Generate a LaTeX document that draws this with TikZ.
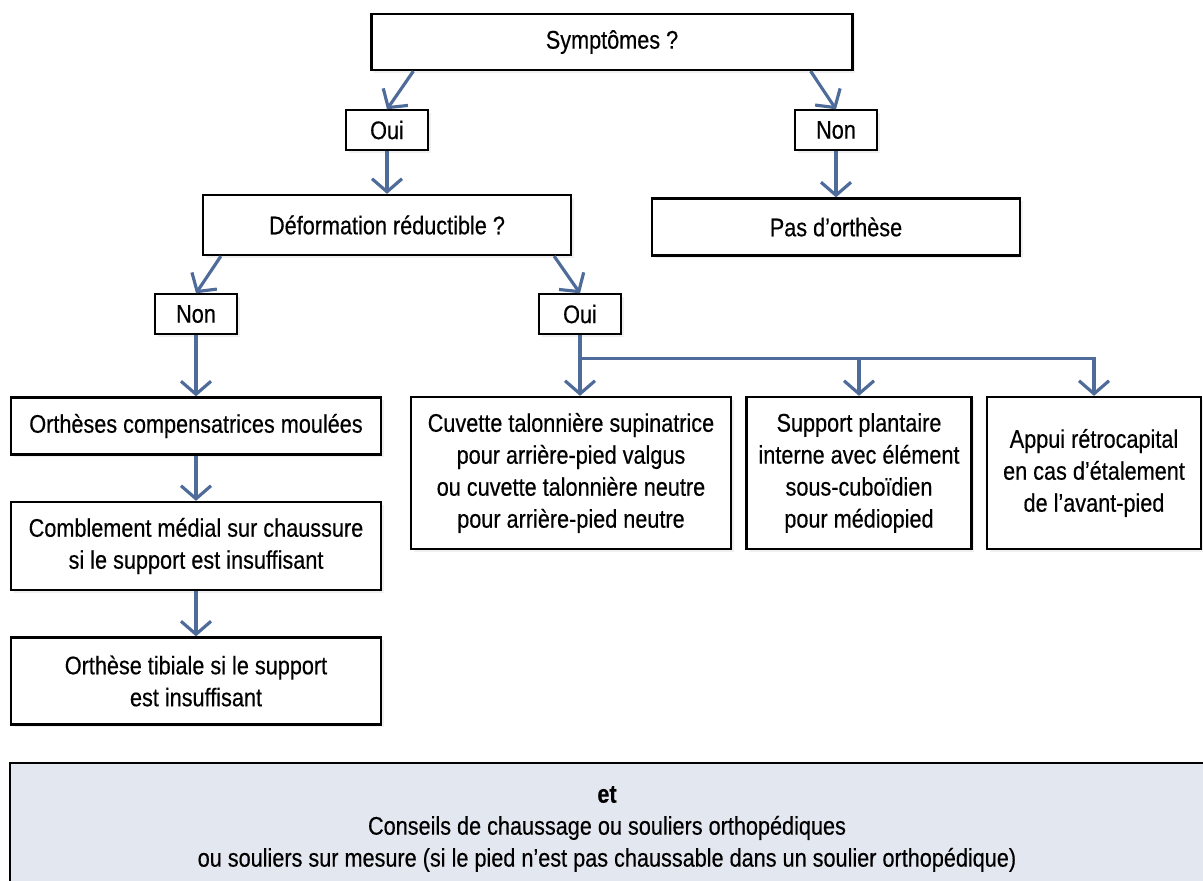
\documentclass[tikz,border=0pt]{standalone}
\usepackage{fontspec}
\setmainfont{Liberation Sans}[FakeStretch=0.85, FakeBold=0.4]
\usepackage{xcolor}
\usepackage{tikz}
\usetikzlibrary{arrows.meta,positioning,shadows}
\definecolor{flecheblue}{RGB}{79,107,154}
\definecolor{conseilfill}{RGB}{227,231,240}

\begin{document}
\begin{tikzpicture}[
    x=0.02cm, y=-0.02cm,
    box/.style={rectangle, draw=black, line width=1.3pt, fill=white, align=center,
        font=\fontsize{14.5}{18.2}\selectfont, inner sep=2pt,
        drop shadow={opacity=0.12, shadow xshift=1.5pt, shadow yshift=-1.5pt}},
    answer/.style={box, minimum width=1.64cm, minimum height=0.8cm, line width=0.8pt},
    arrow/.style={-{Straight Barb[length=2.6mm, width=6mm]}, line width=1.8pt, draw=flecheblue}
]
    \useasboundingbox (0,0) rectangle (1203,881);
    \clip (0,0) rectangle (1203,881);

    % Top layer
    \node[box, minimum width=9.62cm, minimum height=1.12cm] (sympt) at (612,42) {Symptômes ?};
    \node[answer] (oui1) at (387,130) {Oui};
    \node[answer] (non1) at (836,130) {Non};

    % Middle layer
    \node[box, minimum width=7.36cm, minimum height=1.2cm] (deform) at (387,225) {Déformation réductible ?};
    \node[box, minimum width=7.36cm, minimum height=1.14cm] (pas) at (836,227) {Pas d’orthèse};
    \node[answer] (non2) at (196,314) {Non};
    \node[answer] (oui2) at (580,314) {Oui};

    % Left column
    \node[box, minimum width=7.4cm, minimum height=1.14cm] (compens) at (196,426) {Orthèses compensatrices moulées};
    \node[box, minimum width=7.4cm, minimum height=1.76cm] (combl) at (196,546) {Comblement médial sur chaussure\\si le support est insuffisant};
    \node[box, minimum width=7.4cm, minimum height=1.74cm] (tibiale) at (196,681) {Orthèse tibiale si le support\\est insuffisant};

    % Right row
    \node[box, minimum width=6.4cm, minimum height=3.04cm] (cuvette) at (571,473) {Cuvette talonnière supinatrice\\pour arrière-pied valgus\\ou cuvette talonnière neutre\\pour arrière-pied neutre};
    \node[box, minimum width=4.5cm, minimum height=3.04cm] (support) at (859,473) {Support plantaire\\interne avec élément\\sous-cuboïdien\\pour médiopied};
    \node[box, minimum width=4.28cm, minimum height=3.04cm] (appui) at (1094,473) {Appui rétrocapital\\en cas d’étalement\\de l’avant-pied};

    % Bottom advice
    \node[draw=black, line width=1.3pt, fill=conseilfill, minimum width=23.9cm, minimum height=2.74cm,
        inner sep=0pt] (conseil) at (607.5,831.5) {};
    \node[align=center, font=\fontsize{14.5}{18.2}\selectfont] (conseiltxt) at (607,829)
        {\textbf{et}\\Conseils de chaussage ou souliers orthopédiques\\ou souliers sur mesure (si le pied n’est pas chaussable dans un soulier orthopédique)};

    % Arrows
    \draw[arrow] ([xshift=0.86cm]sympt.south west) -- (oui1.north);
    \draw[arrow] ([xshift=-0.86cm]sympt.south east) -- (non1.north);
    \draw[arrow] (oui1) -- (deform);
    \draw[arrow] (non1) -- (pas);
    \draw[arrow] ([xshift=0.38cm]deform.south west) -- (non2.north);
    \draw[arrow] ([xshift=-0.36cm]deform.south east) -- (oui2.north);
    \draw[arrow] (non2) -- (compens);
    \draw[arrow] (compens) -- (combl);
    \draw[arrow] (combl) -- (tibiale);
    \draw[arrow] (oui2) -- (oui2.south |- cuvette.north);
    \draw[arrow] (oui2.south) ++(0,24) -| (support.north);
    \draw[arrow] (oui2.south) ++(0,24) -| (appui.north);
\end{tikzpicture}
\end{document}
